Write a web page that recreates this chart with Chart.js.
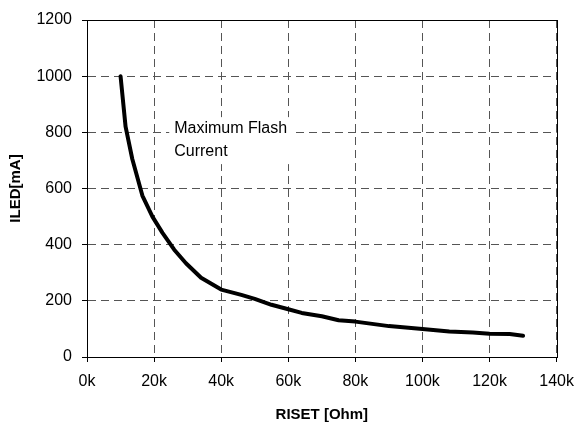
<!DOCTYPE html>
<html>
<head>
<meta charset="utf-8">
<script src="https://cdn.jsdelivr.net/npm/chart.js@4/dist/chart.umd.min.js"></script>
<style>
html,body{margin:0;padding:0;background:#fff;}
#wrap{width:584px;height:426px;position:relative;}
</style>
</head>
<body>
<div id="wrap"><canvas id="c" width="584" height="426"></canvas></div>
<script>
// Data (RISET in kOhm, ILED in mA)
const risetK = [10, 11.5, 13.5, 16.5, 19.5, 22.5, 26, 29.5, 34, 40, 46, 50, 55, 60, 64, 70, 75, 80, 90, 100, 108, 115, 120, 126, 130];
const iledMA = [1000, 820, 705, 575, 500, 442, 382, 334, 282, 240, 221, 207, 186, 170, 157, 145, 131, 126, 110, 100, 91, 87, 83, 82, 76];
const xTitle = "RISET [Ohm]";
const yTitle = "ILED[mA]";
const noteLines = ["Maximum Flash", "Current"];
const noteAt = {x: 26, y: 815};

const FONT = "'Liberation Sans', Arial, sans-serif";

const boxPlugin = {
  id: 'box',
  beforeDatasetsDraw(chart) {
    const {ctx, scales} = chart;
    const px = scales.x.getPixelForValue(noteAt.x);
    const py = scales.y.getPixelForValue(noteAt.y);
    ctx.save();
    ctx.fillStyle = '#fff';
    ctx.fillRect(px - 5, py - 11, 122, 47);
    ctx.restore();
  },
  afterDraw(chart) {
    const {ctx, chartArea: a, scales} = chart;
    ctx.save();
    ctx.strokeStyle = '#000';
    ctx.lineWidth = 1;
    ctx.strokeRect(Math.round(a.left) + 0.5, Math.round(a.top) + 0.5, Math.round(a.right - a.left), Math.round(a.bottom - a.top));
    ctx.fillStyle = '#000';
    ctx.font = "16px " + FONT;
    ctx.textAlign = 'left';
    ctx.textBaseline = 'middle';
    const px = scales.x.getPixelForValue(noteAt.x);
    const py = scales.y.getPixelForValue(noteAt.y);
    noteLines.forEach((t, i) => ctx.fillText(t, px, py + i * 23));
    ctx.restore();
  }
};

new Chart(document.getElementById('c'), {
  type: 'line',
  data: {
    datasets: [{
      data: risetK.map((x, i) => ({x, y: iledMA[i]})),
      borderColor: '#000',
      borderWidth: 4,
      pointRadius: 0,
      tension: 0,
      borderCapStyle: 'round',
      borderJoinStyle: 'round',
      fill: false
    }]
  },
  options: {
    responsive: false,
    animation: false,
    devicePixelRatio: 1,
    layout: {padding: {top: 20, right: 21, left: 0, bottom: 0}},
    plugins: {legend: {display: false}, tooltip: {enabled: false}},
    scales: {
      x: {
        type: 'linear',
        min: 0, max: 140,
        afterFit(s) { s.height = 69; },
        ticks: {
          stepSize: 20,
          color: '#000',
          padding: 10,
          font: {family: FONT, size: 16},
          callback: v => v + 'k'
        },
        grid: {color: '#555', lineWidth: 1, tickColor: '#000', tickLength: 5},
        border: {color: '#000', width: 1, dash: [8, 5]},
        title: {display: true, text: xTitle, color: '#000', font: {family: FONT, size: 15, weight: 'bold'}, padding: {top: 0, bottom: 2}}
      },
      y: {
        min: 0, max: 1200,
        afterFit(s) { s.width = 87; },
        ticks: {
          stepSize: 200,
          color: '#000',
          padding: 10,
          font: {family: FONT, size: 16},
          callback: v => String(v)
        },
        grid: {color: '#555', lineWidth: 1, tickColor: '#000', tickLength: 5},
        border: {color: '#000', width: 1, dash: [8, 5]},
        title: {display: true, text: yTitle, color: '#000', font: {family: FONT, size: 15, weight: 'bold'}, padding: {top: 7, bottom: 0}}
      }
    }
  },
  plugins: [boxPlugin]
});
</script>
</body>
</html>
